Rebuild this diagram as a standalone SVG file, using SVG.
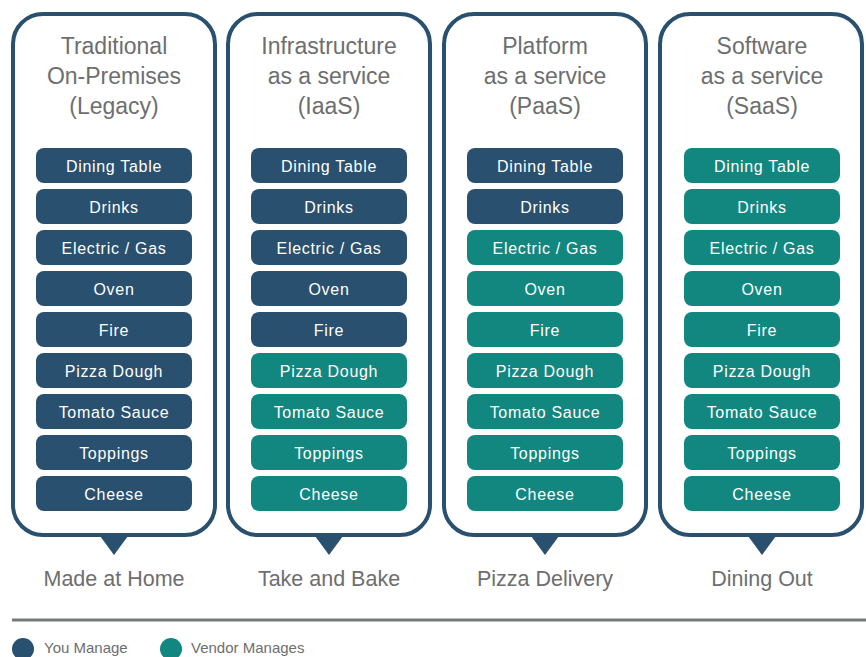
<svg xmlns="http://www.w3.org/2000/svg" width="866" height="657" viewBox="0 0 866 657">
<defs>
<style>
.panel{fill:#fff;stroke:#29506e;stroke-width:4}
.ptr{fill:#29506e}
.you{fill:#29506e}
.ven{fill:#11877f}
.title{font-family:"Liberation Sans",Arial,sans-serif;font-size:23px;fill:#6d6e70;text-anchor:middle}
.lbl{font-family:"Liberation Sans",Arial,sans-serif;font-size:16px;fill:#fff;text-anchor:middle;letter-spacing:0.7px}
.foot{font-family:"Liberation Sans",Arial,sans-serif;font-size:21.5px;fill:#6d6e70;text-anchor:middle}
.leg{font-family:"Liberation Sans",Arial,sans-serif;font-size:15px;fill:#6d6e70}
</style>
</defs>
<rect width="866" height="657" fill="#fff"/>

<g id="col-legacy">
<rect class="panel" x="13" y="14" width="202" height="521" rx="30"/>
<polygon class="ptr" points="100,536 128,536 114,555"/>
<text class="title" x="114" y="54">Traditional</text>
<text class="title" x="114" y="84">On-Premises</text>
<text class="title" x="114" y="114">(Legacy)</text>
<g transform="translate(36,0)">
<rect class="you" x="0" y="148" width="156" height="35" rx="8"/><text class="lbl" x="78" y="171.5">Dining Table</text>
<rect class="you" x="0" y="189" width="156" height="35" rx="8"/><text class="lbl" x="78" y="212.5">Drinks</text>
<rect class="you" x="0" y="230" width="156" height="35" rx="8"/><text class="lbl" x="78" y="253.5">Electric / Gas</text>
<rect class="you" x="0" y="271" width="156" height="35" rx="8"/><text class="lbl" x="78" y="294.5">Oven</text>
<rect class="you" x="0" y="312" width="156" height="35" rx="8"/><text class="lbl" x="78" y="335.5">Fire</text>
<rect class="you" x="0" y="353" width="156" height="35" rx="8"/><text class="lbl" x="78" y="376.5">Pizza Dough</text>
<rect class="you" x="0" y="394" width="156" height="35" rx="8"/><text class="lbl" x="78" y="417.5">Tomato Sauce</text>
<rect class="you" x="0" y="435" width="156" height="35" rx="8"/><text class="lbl" x="78" y="458.5">Toppings</text>
<rect class="you" x="0" y="476" width="156" height="35" rx="8"/><text class="lbl" x="78" y="499.5">Cheese</text>
</g>
<text class="foot" x="114" y="586">Made at Home</text>
</g>

<g id="col-iaas">
<rect class="panel" x="228" y="14" width="202" height="521" rx="30"/>
<polygon class="ptr" points="315,536 343,536 329,555"/>
<text class="title" x="329" y="54">Infrastructure</text>
<text class="title" x="329" y="84">as a service</text>
<text class="title" x="329" y="114">(IaaS)</text>
<g transform="translate(251,0)">
<rect class="you" x="0" y="148" width="156" height="35" rx="8"/><text class="lbl" x="78" y="171.5">Dining Table</text>
<rect class="you" x="0" y="189" width="156" height="35" rx="8"/><text class="lbl" x="78" y="212.5">Drinks</text>
<rect class="you" x="0" y="230" width="156" height="35" rx="8"/><text class="lbl" x="78" y="253.5">Electric / Gas</text>
<rect class="you" x="0" y="271" width="156" height="35" rx="8"/><text class="lbl" x="78" y="294.5">Oven</text>
<rect class="you" x="0" y="312" width="156" height="35" rx="8"/><text class="lbl" x="78" y="335.5">Fire</text>
<rect class="ven" x="0" y="353" width="156" height="35" rx="8"/><text class="lbl" x="78" y="376.5">Pizza Dough</text>
<rect class="ven" x="0" y="394" width="156" height="35" rx="8"/><text class="lbl" x="78" y="417.5">Tomato Sauce</text>
<rect class="ven" x="0" y="435" width="156" height="35" rx="8"/><text class="lbl" x="78" y="458.5">Toppings</text>
<rect class="ven" x="0" y="476" width="156" height="35" rx="8"/><text class="lbl" x="78" y="499.5">Cheese</text>
</g>
<text class="foot" x="329" y="586">Take and Bake</text>
</g>

<g id="col-paas">
<rect class="panel" x="444" y="14" width="202" height="521" rx="30"/>
<polygon class="ptr" points="531,536 559,536 545,555"/>
<text class="title" x="545" y="54">Platform</text>
<text class="title" x="545" y="84">as a service</text>
<text class="title" x="545" y="114">(PaaS)</text>
<g transform="translate(467,0)">
<rect class="you" x="0" y="148" width="156" height="35" rx="8"/><text class="lbl" x="78" y="171.5">Dining Table</text>
<rect class="you" x="0" y="189" width="156" height="35" rx="8"/><text class="lbl" x="78" y="212.5">Drinks</text>
<rect class="ven" x="0" y="230" width="156" height="35" rx="8"/><text class="lbl" x="78" y="253.5">Electric / Gas</text>
<rect class="ven" x="0" y="271" width="156" height="35" rx="8"/><text class="lbl" x="78" y="294.5">Oven</text>
<rect class="ven" x="0" y="312" width="156" height="35" rx="8"/><text class="lbl" x="78" y="335.5">Fire</text>
<rect class="ven" x="0" y="353" width="156" height="35" rx="8"/><text class="lbl" x="78" y="376.5">Pizza Dough</text>
<rect class="ven" x="0" y="394" width="156" height="35" rx="8"/><text class="lbl" x="78" y="417.5">Tomato Sauce</text>
<rect class="ven" x="0" y="435" width="156" height="35" rx="8"/><text class="lbl" x="78" y="458.5">Toppings</text>
<rect class="ven" x="0" y="476" width="156" height="35" rx="8"/><text class="lbl" x="78" y="499.5">Cheese</text>
</g>
<text class="foot" x="545" y="586">Pizza Delivery</text>
</g>

<g id="col-saas">
<rect class="panel" x="660" y="14" width="202" height="521" rx="30"/>
<polygon class="ptr" points="748,536 776,536 762,555"/>
<text class="title" x="762" y="54">Software</text>
<text class="title" x="762" y="84">as a service</text>
<text class="title" x="762" y="114">(SaaS)</text>
<g transform="translate(684,0)">
<rect class="ven" x="0" y="148" width="156" height="35" rx="8"/><text class="lbl" x="78" y="171.5">Dining Table</text>
<rect class="ven" x="0" y="189" width="156" height="35" rx="8"/><text class="lbl" x="78" y="212.5">Drinks</text>
<rect class="ven" x="0" y="230" width="156" height="35" rx="8"/><text class="lbl" x="78" y="253.5">Electric / Gas</text>
<rect class="ven" x="0" y="271" width="156" height="35" rx="8"/><text class="lbl" x="78" y="294.5">Oven</text>
<rect class="ven" x="0" y="312" width="156" height="35" rx="8"/><text class="lbl" x="78" y="335.5">Fire</text>
<rect class="ven" x="0" y="353" width="156" height="35" rx="8"/><text class="lbl" x="78" y="376.5">Pizza Dough</text>
<rect class="ven" x="0" y="394" width="156" height="35" rx="8"/><text class="lbl" x="78" y="417.5">Tomato Sauce</text>
<rect class="ven" x="0" y="435" width="156" height="35" rx="8"/><text class="lbl" x="78" y="458.5">Toppings</text>
<rect class="ven" x="0" y="476" width="156" height="35" rx="8"/><text class="lbl" x="78" y="499.5">Cheese</text>
</g>
<text class="foot" x="762" y="586">Dining Out</text>
</g>

<g id="connectors"></g>

<g id="legend">
<line x1="12" y1="620" x2="866" y2="620" stroke="#77787a" stroke-width="3"/>
<circle class="you" cx="23" cy="649" r="11"/>
<text class="leg" x="44" y="653">You Manage</text>
<circle class="ven" cx="171" cy="649" r="11"/>
<text class="leg" x="191" y="653">Vendor Manages</text>
</g>
</svg>
